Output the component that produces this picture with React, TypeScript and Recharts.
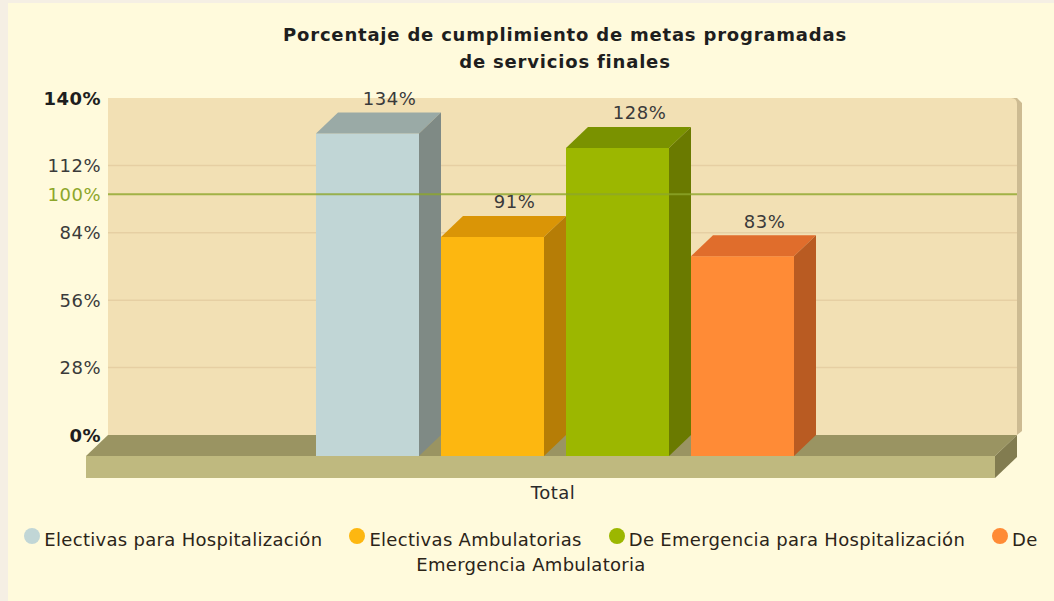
import { BarChart, Bar, XAxis, YAxis, CartesianGrid, ReferenceLine, ReferenceArea, LabelList } from 'recharts';

const categories = ['Total'];
const seriesNames = [
  'Electivas para Hospitalización',
  'Electivas Ambulatorias',
  'De Emergencia para Hospitalización',
  'De Emergencia Ambulatoria',
];
// one value per series for the single "Total" category
const totalValues = [134, 91, 128, 83];
const yTicks = [0, 28, 56, 84, 112, 140];
const targetValue = 100;
const gridValues = [28, 56, 84, 112];

const palette = [
  { front: '#C1D6D6', top: '#9AAAA6', side: '#7F8A85' },
  { front: '#FDB710', top: '#DA9506', side: '#B67D06' },
  { front: '#9CB700', top: '#7A9200', side: '#6A7A00' },
  { front: '#FF8B36', top: '#E06D2C', side: '#B95B22' },
];

const data = categories.map((name) => {
  const row: Record<string, string | number> = { name };
  seriesNames.forEach((_, i) => {
    row['s' + i] = totalValues[i];
  });
  return row;
});

const FONT = '"DejaVu Sans", Verdana, sans-serif';
const CHART_W = 1046;
const CHART_H = 500;
const MARGIN = { top: 95, right: 37, bottom: 28, left: 0 };
const PLOT_L = 100;
const PLOT_R = CHART_W - MARGIN.right;
const DX = 22; // depth, horizontal
const DY = 21; // depth, vertical
const FLOOR_H = 22;

function Box3D(props: any) {
  const { x, y, width, height, colors } = props;
  if (width == null || height == null) return null;
  const fw = width - DX;
  const fy = y + DY;
  const fb = y + height + DY;
  const bx = x + width;
  return (
    <g>
      <rect x={x} y={fy} width={fw} height={fb - fy} fill={colors.front} />
      <polygon points={`${x},${fy} ${x + DX},${y} ${bx},${y} ${x + fw},${fy}`} fill={colors.top} />
      <polygon points={`${x + fw},${fy} ${bx},${y} ${bx},${y + height} ${x + fw},${fb}`} fill={colors.side} />
    </g>
  );
}

function Floor(props: any) {
  const { y, height } = props;
  const b = y + height;
  const fl = PLOT_L - DX;
  const fr = PLOT_R - DX;
  return (
    <g>
      <path d={`M${PLOT_R},${y + 6} Q${PLOT_R},${y} ${PLOT_R - 6},${y} L${PLOT_R},${y} L${PLOT_R + 5},${y + 5} L${PLOT_R + 5},${b - 4} L${PLOT_R},${b} Z`} fill="#CDBB92" />
      <polygon points={`${PLOT_L},${b} ${PLOT_R},${b} ${fr},${b + DY} ${fl},${b + DY}`} fill="#9A9462" />
      <rect x={fl} y={b + DY} width={fr - fl} height={FLOOR_H} fill="#BFB97F" />
      <polygon points={`${fr},${b + DY} ${PLOT_R},${b} ${PLOT_R},${b + FLOOR_H} ${fr},${b + DY + FLOOR_H}`} fill="#827C50" />
    </g>
  );
}

function YTick(props: any) {
  const { x, y, payload } = props;
  const v = payload.value;
  const bold = v === yTicks[0] || v === yTicks[yTicks.length - 1];
  return (
    <text x={x} y={y} textAnchor="end" dominantBaseline="central" fontFamily={FONT} fontSize={18} letterSpacing={0.5} fontWeight={bold ? 'bold' : 'normal'} fill={bold ? '#1E1E1E' : '#3A3A3A'}>
      {v}%
    </text>
  );
}

function XTick(props: any) {
  const { x, y, payload } = props;
  return (
    <text x={x - 13} y={y + 57} textAnchor="middle" dominantBaseline="central" fontFamily={FONT} fontSize={18} letterSpacing={0.5} fill="#2A2A2A">
      {payload.value}
    </text>
  );
}

function ValueLabel(props: any) {
  const { x, y, width, value } = props;
  return (
    <text x={x + DX + (width - DX) / 2} y={y - 14} textAnchor="middle" dominantBaseline="central" fontFamily={FONT} fontSize={18} letterSpacing={0.5} fill="#3A3A3A">
      {value}%
    </text>
  );
}

export default function App() {
  return (
    <div style={{ position: 'absolute', left: 0, top: 0, width: 1054, height: 601, background: '#F5EFE4', overflow: 'hidden', fontFamily: FONT }}>
      <div style={{ position: 'absolute', left: 8, top: 3, width: 1046, height: 598, background: '#FFFADC' }}>
        <div style={{ position: 'absolute', left: 157, top: 18, width: 800, textAlign: 'center', fontSize: 18, letterSpacing: 0.8, fontWeight: 'bold', lineHeight: '27px', color: '#1E1E1E' }}>
          Porcentaje de cumplimiento de metas programadas
          <br />
          de servicios finales
        </div>
        <div style={{ position: 'absolute', left: 0, top: 0 }}>
          <BarChart width={CHART_W} height={CHART_H} data={data} margin={MARGIN} barGap={0} barSize={125}>
            <CartesianGrid vertical={false} horizontalValues={gridValues} fill="#F2E0B4" fillOpacity={1} stroke="#E6CFA3" strokeWidth={1.5} />
            <ReferenceArea y1={yTicks[0]} y2={yTicks[yTicks.length - 1]} shape={<Floor />} fillOpacity={0} strokeOpacity={0} />
            <XAxis dataKey="name" axisLine={false} tickLine={false} tickSize={0} tickMargin={0} height={40} padding={{ left: 7, right: 0 }} tick={<XTick />} />
            <YAxis domain={[yTicks[0], yTicks[yTicks.length - 1]]} ticks={yTicks} axisLine={false} tickLine={false} tickSize={0} tickMargin={7} width={100} tick={<YTick />} />
            {seriesNames.map((n, i) => (
              <Bar key={n} dataKey={'s' + i} name={n} fill={palette[i].front} isAnimationActive={false} shape={(p: any) => <Box3D {...p} colors={palette[i]} />}>
                <LabelList dataKey={'s' + i} content={<ValueLabel />} />
              </Bar>
            ))}
            <ReferenceLine y={targetValue} stroke="#8DA62A" strokeWidth={2} strokeOpacity={0.8} label={{ value: `${targetValue}%`, position: 'left', offset: 7, fill: '#8DA62A', fontSize: 18, letterSpacing: 0.5, fontFamily: FONT }} />
          </BarChart>
        </div>
        <div style={{ position: 'absolute', left: 5, top: 524, width: 1036, textAlign: 'center', fontSize: 18, letterSpacing: 0.3, lineHeight: '25px', color: '#2B2418' }}>
          {seriesNames.map((n, i) => (
            <span key={n} style={{ marginLeft: i === 0 ? 0 : 27 }}>
              <span style={{ display: 'inline-block', width: 16, height: 16, borderRadius: '50%', background: palette[i].front, verticalAlign: 'middle', position: 'relative', top: -5, marginRight: 4 }} />
              {n}
            </span>
          ))}
        </div>
      </div>
    </div>
  );
}
